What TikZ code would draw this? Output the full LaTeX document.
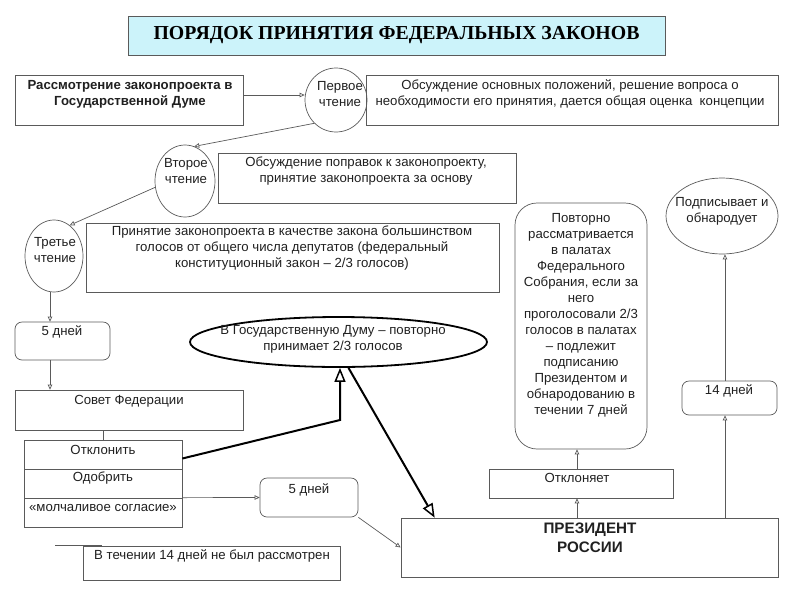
\documentclass[tikz,border=0pt]{standalone}
\usepackage{fontspec}
\setmainfont{Liberation Sans}
\newfontfamily\titlefont{Liberation Serif}
\usetikzlibrary{arrows.meta,shapes.geometric,calc}
\definecolor{ln}{HTML}{5A5A5A}
\definecolor{tc}{HTML}{202020}
\definecolor{cy}{HTML}{CCF3FA}
\newcommand\fs{\fontsize{13.2}{16}\selectfont}
\begin{document}
\begin{tikzpicture}[x=1pt,y=-1pt,
  box/.style={draw=ln, line width=0.7pt, inner sep=0pt, rectangle},
  rbox/.style={box, rounded corners=7pt},
  txt/.style={font=\fs, text=tc, align=center, inner sep=0pt},
  circ/.style={draw=ln, line width=0.7pt, ellipse, inner sep=0pt},
  arr/.style={draw=ln, line width=0.7pt, -{Triangle[open,length=5pt,width=4.5pt]}},
  tarr/.style={draw=black, line width=2pt, -{Triangle[open,length=14pt,width=11pt,line width=1.5pt]}}]
\path[use as bounding box] (0,0) rectangle (800,600);
% title
\node[box, fill=cy, minimum width=537pt, minimum height=39pt, text=black,
  font=\titlefont\bfseries\fontsize{19.8}{22}\selectfont] (title) at (396.5,35.5) {ПОРЯДОК ПРИНЯТИЯ ФЕДЕРАЛЬНЫХ ЗАКОНОВ};
% Duma
\node[box, minimum width=228pt, minimum height=50pt] (gd) at (129,100) {};
\node[txt, font=\bfseries\fs] (gdt) at (130,94) {Рассмотрение законопроекта в\\Государственной Думе};
% first reading
\node[circ, minimum width=62pt, minimum height=64pt] (r1) at (336,100) {};
\node[txt] (r1t) at (340,94) {Первое\\чтение};
\node[box, minimum width=412pt, minimum height=50pt] (r1b) at (572,100) {};
\node[txt] (r1bt) at (570,94) {Обсуждение основных положений, решение вопроса о\\необходимости его принятия, дается общая оценка\ \ концепции};
% second reading
\node[circ, minimum width=60pt, minimum height=72pt] (r2) at (185,181) {};
\node[txt] (r2t) at (186,171) {Второе\\чтение};
\node[box, minimum width=298pt, minimum height=50pt] (r2b) at (367,178) {};
\node[txt] (r2bt) at (366,171) {Обсуждение поправок к законопроекту,\\принятие законопроекта за основу};
% third reading
\node[circ, minimum width=58pt, minimum height=72pt] (r3) at (54,256) {};
\node[txt] (r3t) at (55,250) {Третье\\чтение};
\node[box, minimum width=413pt, minimum height=69pt] (r3b) at (292.5,257.5) {};
\node[txt] (r3bt) at (292,248) {Принятие законопроекта в качестве закона большинством\\голосов от общего числа депутатов (федеральный\\конституционный закон – 2/3 голосов)};
% 5 days
\node[rbox, minimum width=95pt, minimum height=38pt] (d5a) at (62.5,341) {};
\node[txt] (d5at) at (62,332) {5 дней};
% Federation council
\node[box, minimum width=228pt, minimum height=40pt] (sf) at (129,410) {};
\node[txt] (sft) at (129,401) {Совет Федерации};
\node[box, minimum width=158pt, minimum height=29pt] (otk) at (103,454.5) {};
\node[box, minimum width=158pt, minimum height=29pt] (odo) at (103,483.5) {};
\node[box, minimum width=158pt, minimum height=29pt] (mol) at (103,512.5) {};
\node[txt] (otkt) at (103,450) {Отклонить};
\node[txt] (odot) at (103,478) {Одобрить};
\node[txt] (molt) at (103,508) {«молчаливое согласие»};
% 5 days (2)
\node[rbox, minimum width=98pt, minimum height=39pt] (d5b) at (309,497.5) {};
\node[txt] (d5bt) at (309,490) {5 дней};
% not reviewed
\node[box, minimum width=257pt, minimum height=34pt] (nr) at (211.5,563) {};
\node[txt] (nrt) at (212,556) {В течении 14 дней не был рассмотрен};
\draw[ln, line width=1pt] (55,545) -- (102,545);
% Duma again
\node[ellipse, draw=black, line width=1.8pt, minimum width=297pt, minimum height=50pt, inner sep=0pt] (gd2) at (338.5,342) {};
\node[txt] (gd2t) at (333,339) {В Государственную Думу – повторно\\принимает 2/3 голосов};
% President
\node[box, minimum width=377pt, minimum height=59pt] (pres) at (589.5,547.5) {};
\node[txt, font=\bfseries\fontsize{15.2}{19}\selectfont] (prest) at (590,538) {ПРЕЗИДЕНТ\\РОССИИ};
\node[box, minimum width=184pt, minimum height=29pt] (otkl) at (581,483.5) {};
\node[txt] (otklt) at (577,478) {Отклоняет};
\node[rbox, rounded corners=22pt, minimum width=132pt, minimum height=246pt] (pov) at (581,326) {};
\node[txt] (povt) at (581,315) {Повторно\\рассматривается\\в палатах\\Федерального\\Собрания, если за\\него\\проголосовали 2/3\\голосов в палатах\\– подлежит\\подписанию\\Президентом и\\обнародованию в\\течении 7 дней};
\node[circ, minimum width=112pt, minimum height=76pt] (sign) at (722,216) {};
\node[txt] (signt) at (722,211) {Подписывает и\\обнародует};
\node[rbox, minimum width=95pt, minimum height=34pt] (d14) at (729.5,398) {};
\node[txt] (d14t) at (729,391) {14 дней};
% helper coordinates
\coordinate (y95) at (0,95);
\coordinate (c50) at (50,0);
\coordinate (c577) at (577,0);
\coordinate (c725) at (725,0);
\coordinate (bend) at (340,420);
% connectors
\draw[arr] (gd.east |- y95) -- (r1.west |- y95);
\draw[arr] (r1.-133) -- (r2.75);
\draw[arr] (r2.-168) -- (r3.63);
\draw[arr] (r3.south -| c50) -- (d5a.north -| c50);
\draw[arr] (d5a.south -| c50) -- (sf.north -| c50);
\draw[draw=ln, line width=0.7pt] (sf.south -| otk.north) -- (otk.north);
\draw[arr] (mol.north east) -- (d5b.west);
\draw[arr] (d5b.south east) -- (pres.west);
\draw[tarr] ($(otk.east)+(0,4)$) -- (bend) -- (bend |- gd2.south);
\draw[tarr] ($(gd2.south)+(10,0)$) -- ($(pres.north west)+(34,0)$);
\draw[arr] (pres.north -| c577) -- (otkl.south -| c577);
\draw[arr] (otkl.north -| c577) -- (pov.south -| c577);
\draw[arr] (pres.north -| c725) -- (d14.south -| c725);
\draw[arr] (d14.north -| c725) -- (sign.south -| c725);
\end{tikzpicture}
\end{document}
